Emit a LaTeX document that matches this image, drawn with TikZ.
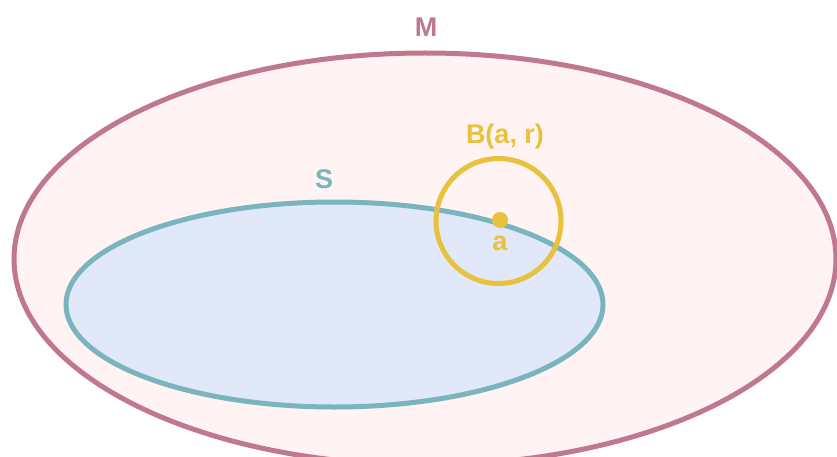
\documentclass[tikz,border=0pt]{standalone}
\usepackage{fontspec}
\setmainfont{Liberation Sans}
\definecolor{mline}{HTML}{C07890}
\definecolor{mfill}{HTML}{FFF3F3}
\definecolor{sline}{HTML}{7AB4BE}
\definecolor{sfill}{HTML}{E0E8FA}
\definecolor{bline}{HTML}{E8C23E}
\tikzset{
  lbl/.style={font=\fontsize{27}{30}\selectfont\bfseries, inner sep=0pt},
  setline/.style={line width=5pt}
}
\begin{document}
\begin{tikzpicture}[x=1pt,y=-1pt]
\useasboundingbox (0,0) rectangle (837,457);
\clip (0,0) rectangle (837,457);
\fill[white] (0,0) rectangle (837,457);
\coordinate (mc) at (425,259);
\coordinate (sc) at (334.5,304.5);
\coordinate (bc) at (498.5,221);
\draw[setline, draw=mline, fill=mfill] (mc) ellipse [x radius=411pt, y radius=206pt];
\draw[setline, draw=sline, fill=sfill] (sc) ellipse [x radius=268.5pt, y radius=102.5pt];
\draw[setline, draw=bline] (bc) circle [radius=62.5pt];
\fill[bline] (500,220) circle [radius=8pt] coordinate (a);
\node[lbl, text=mline] (mlabel) at (426,27) {M};
\node[lbl, text=sline] (slabel) at (324,179) {S};
\node[lbl, text=bline] (blabel) at (505,137) {B(a, r)};
\node[lbl, text=bline] (alabel) at (500,243) {a};
\end{tikzpicture}
\end{document}
